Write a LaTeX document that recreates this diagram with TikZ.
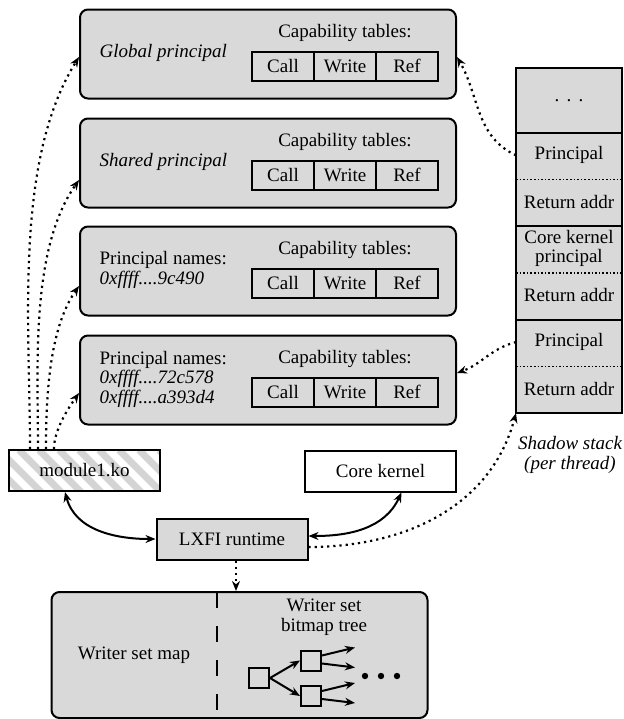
\documentclass[tikz,border=0pt]{standalone}
\usepackage{fontspec}
\setmainfont{Liberation Serif}
\usetikzlibrary{arrows.meta}

\definecolor{boxgray}{RGB}{217,217,217}
\definecolor{stripegray}{RGB}{212,212,212}

\begin{document}
\begin{tikzpicture}[x=0.5pt,y=-0.5pt,line width=1pt,
  font=\fontsize{9.5}{9.75}\selectfont,
  >={Stealth[length=5pt,width=4pt]},
  pbox/.style={draw,fill=boxgray,rounded corners=4pt,minimum width=188pt,minimum height=44.5pt},
  cell/.style={draw,minimum width=31pt,minimum height=14.5pt,inner sep=0pt},
  slot/.style={fill=boxgray,minimum width=52pt,minimum height=23.33pt,inner sep=0pt,align=center},
  plain/.style={draw,minimum width=75.5pt,minimum height=20.5pt},
  sq/.style={draw,fill=boxgray,minimum size=10pt,inner sep=0pt},
  ptr/.style={->,dotted,line width=1.1pt}]
\useasboundingbox (0,0) rectangle (623,719);
\def\principal#1#2#3{
  \node[pbox] at (268,#2) (#1) {};
  \node[anchor=west,align=left] at (92,#2-1) (#1name) {#3};
  \node at (345,#2-21) (#1cap) {Capability tables:};
  \node[cell] at (283,#2+12) (#1call) {Call};
  \node[cell] at (345,#2+12) (#1write) {Write};
  \node[cell] at (407,#2+12) (#1ref) {Ref};
}
\principal{g}{54}{\textit{Global principal}}
\principal{s}{163}{\textit{Shared principal}}
\principal{n}{271}{Principal names:\\\textit{0xffff....9c490}}
\principal{m}{380}{Principal names:\\\textit{0xffff....72c578}\\\textit{0xffff....a393d4}}

% shadow stack
\node[slot,minimum height=31.5pt] at (569,100.5) (dots) {.\hspace{3.6pt}.\hspace{3.6pt}.};
\node[slot] at (569,155.33) (s1) {Principal};
\node[slot] at (569,202) (s2) {Return addr};
\node[slot] at (569,248.67) (s3) {Core kernel\\principal};
\node[slot] at (569,295.33) (s4) {Return addr};
\node[slot] at (569,342) (s5) {Principal};
\node[slot] at (569,388.67) (s6) {Return addr};
\draw (dots.north west) rectangle (s6.south east);
\foreach \c in {dots,s2,s4} \draw (\c.south west) -- (\c.south east);
\foreach \c in {s1,s3,s5} \draw[densely dotted,line width=0.8pt] (\c.south west) -- (\c.south east);
\node[align=center,font=\fontsize{9.5}{9.75}\selectfont\itshape] at (570,455) (shadow) {Shadow stack\\(per thread)};

\node[plain,fill=white,path picture={
  \foreach \i in {-25,-15,...,75}
    \draw[stripegray,line width=3.5pt] ([xshift=\i pt]path picture bounding box.north west) -- ++(21pt,-21pt);
  }] at (84.5,470.5) (mod) {module1.ko};
\node[plain,fill=white] at (380.5,471) (core) {Core kernel};
\node[plain,fill=boxgray] at (232,539) (lx) {LXFI runtime};

% writer set map
\node[pbox,minimum height=63pt] at (239.5,655) (wsm) {};
\draw[dash pattern=on 8pt off 9pt] (217,592) -- (217,718);
\node at (134,655) (map) {Writer set map};
\node[align=center] at (324,617) (tree) {Writer set\\bitmap tree};
\node[sq] at (259,678) (root) {};
\node[sq] at (311,660.5) (ct) {};
\node[sq] at (311,696) (cb) {};
\draw[->] (root.east) -- (ct.west);
\draw[->] (root.east) -- (cb.west);
\foreach \c in {ct,cb} {
  \draw[->] ([yshift=2.5pt]\c.east) -- ++(33,-8);
  \draw[->] ([yshift=-1.5pt]\c.east) -- ++(33,4);
}
\foreach \x in {365,381,397} \fill (\x,676) circle[radius=1.6pt];

% pointers
\foreach \b/\s/\d/\a in {g/-27.25/-1.5/238,s/-23.25/-8.5/235,n/-19.25/-7.5/235,m/-15.25/-6.5/235}
  \draw[ptr] ([xshift=\s pt]mod.north) to[out=90,in=\a,looseness=0.8] ([yshift=\d pt]\b.west);
\draw[ptr] (s1.west) to[out=155,in=-60] ([yshift=-1.5pt]g.east);
\draw[ptr] (s5.west) to[out=195,in=20] ([yshift=3.5pt]m.east);
\draw[ptr] ([yshift=-4pt]lx.east) to[out=0,in=-105] (s6.south west);
\draw[<->] ([xshift=-9.75pt]mod.south) to[out=-75,in=180] (lx.west);
\draw[<->] ([yshift=1.5pt]lx.east) to[out=0,in=-115] ([xshift=10.5pt]core.south);
\draw[ptr] ([xshift=2pt]lx.south) -- ([xshift=2pt]lx.south |- wsm.north);
\end{tikzpicture}
\end{document}
